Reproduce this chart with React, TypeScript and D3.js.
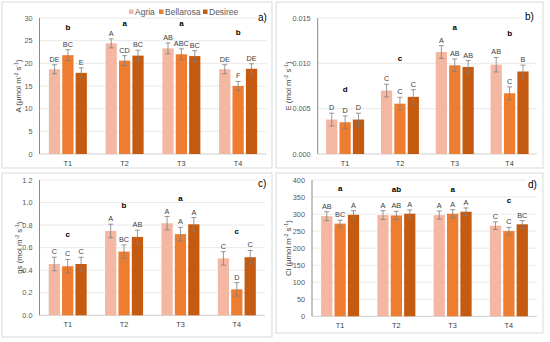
import React from "react";
import * as d3 from "d3";

const categories = ["T1", "T2", "T3", "T4"];
const seriesNames = ["Agria", "Bellarosa", "Desiree"];
const seriesColors = ["#F4B7A1", "#ED7D31", "#C55A11"];

// rows = categories, cols = series (Agria, Bellarosa, Desiree)
const aMeans = [[18.7, 21.8, 17.9], [24.4, 20.6, 21.7], [23.3, 22.0, 21.6], [18.7, 15.0, 18.8]];
const aErrors = [[1.0, 1.2, 1.1], [1.0, 1.1, 1.2], [1.2, 1.2, 1.2], [1.0, 1.0, 1.1]];
const aLetters = [["DE", "BC", "E"], ["A", "CD", "BC"], ["AB", "ABC", "BC"], ["DE", "F", "DE"]];
const aGroupLetters = ["b", "a", "a", "b"];
const aGroupY = [27.9, 28.9, 28.9, 26.9];

const eMeans = [[0.0038, 0.0035, 0.0038], [0.0070, 0.00555, 0.0063], [0.01125, 0.00978, 0.0096], [0.00985, 0.0067, 0.0091]];
const eErrors = [[0.0007, 0.0007, 0.0007], [0.0007, 0.0007, 0.0008], [0.0007, 0.0007, 0.0007], [0.0008, 0.0007, 0.0007]];
const eLetters = [["D", "D", "D"], ["C", "C", "C"], ["A", "AB", "AB"], ["AB", "C", "B"]];
const eGroupLetters = ["d", "c", "a", "b"];
const eGroupY = [0.00717, 0.0106, 0.0140, 0.01335];

const gsMeans = [[0.455, 0.435, 0.455], [0.748, 0.565, 0.695], [0.816, 0.72, 0.807], [0.505, 0.23, 0.515]];
const gsErrors = [[0.06, 0.06, 0.06], [0.06, 0.06, 0.06], [0.06, 0.06, 0.06], [0.06, 0.06, 0.06]];
const gsLetters = [["C", "C", "C"], ["A", "BC", "AB"], ["A", "A", "A"], ["C", "D", "C"]];
const gsGroupLetters = ["c", "b", "a", "c"];
const gsGroupY = [0.718, 0.975, 1.043, 0.748];

const ciMeans = [[294, 272, 298], [297, 296, 301], [297, 301, 307], [266, 250, 270]];
const ciErrors = [[13, 10, 12], [13, 12, 11], [12, 12, 11], [11, 11, 11]];
const ciLetters = [["AB", "BC", "A"], ["A", "AB", "A"], ["A", "A", "A"], ["C", "C", "BC"]];
const ciGroupLetters = ["a", "ab", "a", "c"];
const ciGroupY = [377, 374, 372, 341];

const FONT = "Liberation Sans, Arial, sans-serif";

type PanelProps = {
  border: { x: number; y: number; w: number; h: number };
  plot: { left: number; right: number; top: number; bottom: number };
  domain: [number, number];
  tickStep: number;
  fmt: string;
  means: number[][];
  errors: number[][];
  letters: string[][];
  groupLetters: string[];
  groupY: number[];
  titleMain: string;
  titleUnit: string;
  titleX: number;
  label: string;
  labelPos: { x: number; y: number };
};

function Panel(p: PanelProps) {
  const x = d3.scaleBand<string>().domain(categories).range([p.plot.left, p.plot.right]);
  const inner = d3.scaleBand<string>().domain(seriesNames).range([0, 38]).paddingInner(0.16).paddingOuter(0);
  const y = d3.scaleLinear().domain(p.domain).range([p.plot.bottom, p.plot.top]);
  const ticks = d3.range(p.domain[0], p.domain[1] + p.tickStep / 2, p.tickStep);
  const f = d3.format(p.fmt);
  const bw = inner.bandwidth();
  const titleY = (p.plot.top + p.plot.bottom) / 2;
  return (
    <g>
      <rect x={p.border.x} y={p.border.y} width={p.border.w} height={p.border.h} fill="white" stroke="#d9d9d9" strokeWidth={1} />
      {ticks.map((t, i) => (
        <g key={"t" + i}>
          {i > 0 && <line x1={p.plot.left} x2={p.plot.right} y1={y(t)} y2={y(t)} stroke="#e3e3e3" strokeWidth={0.8} />}
          <text x={p.plot.left - 7} y={y(t)} dy="0.35em" textAnchor="end" fontSize={7.3} fill="#595959" fontFamily={FONT}>
            {f(t)}
          </text>
        </g>
      ))}
      <line x1={p.plot.left} x2={p.plot.right} y1={p.plot.bottom} y2={p.plot.bottom} stroke="#d0d0d0" strokeWidth={1} />
      {categories.map((c, ci) => {
        const gx = (x(c) as number) + x.bandwidth() / 2 - 19;
        return (
          <g key={c}>
            {seriesNames.map((s, si) => {
              const bx = gx + (inner(s) as number);
              const v = p.means[ci][si];
              const e = p.errors[ci][si];
              const cx = bx + bw / 2;
              return (
                <g key={s}>
                  <rect x={bx} y={y(v)} width={bw} height={y(0) - y(v)} fill={seriesColors[si]} />
                  <line x1={cx} x2={cx} y1={y(v - e)} y2={y(v + e)} stroke="#7f7f7f" strokeWidth={0.8} />
                  <line x1={cx - 2.5} x2={cx + 2.5} y1={y(v + e)} y2={y(v + e)} stroke="#7f7f7f" strokeWidth={0.8} />
                  <line x1={cx - 2.5} x2={cx + 2.5} y1={y(v - e)} y2={y(v - e)} stroke="#7f7f7f" strokeWidth={0.8} />
                  <text x={cx} y={y(v + e) - 3} textAnchor="middle" fontSize={7.3} fill="#404040" fontFamily={FONT}>
                    {p.letters[ci][si]}
                  </text>
                </g>
              );
            })}
            <text x={gx + 19} y={y(p.groupY[ci])} dy="0.35em" textAnchor="middle" fontSize={8} fontWeight="bold" fill="#000" fontFamily={FONT}>
              {p.groupLetters[ci]}
            </text>
            <text x={gx + 19} y={p.plot.bottom + 12} textAnchor="middle" fontSize={7.3} fill="#404040" fontFamily={FONT}>
              {c}
            </text>
          </g>
        );
      })}
      <line x1={p.plot.left} x2={p.plot.left} y1={p.plot.top} y2={p.plot.bottom} stroke="#8c8c8c" strokeWidth={1} />
      <text transform={`translate(${p.titleX},${titleY}) rotate(-90)`} textAnchor="middle" fontSize={7.8} fill="#404040" fontFamily={FONT}>
        {p.titleMain} {p.titleUnit}m<tspan fontSize={5.2} dy={-3}>-2</tspan>
        <tspan dy={3}> s</tspan>
        <tspan fontSize={5.2} dy={-3}>-1</tspan>
        <tspan dy={3}>)</tspan>
      </text>
      <rect x={p.labelPos.x - 2} y={p.labelPos.y - 9} width={14} height={12} fill="white" />
      <text x={p.labelPos.x} y={p.labelPos.y} fontSize={10} fill="#000" fontFamily={FONT}>
        {p.label}
      </text>
    </g>
  );
}

export default function App() {
  const legendX = [129, 159, 203];
  return (
    <svg width={550} height={342} style={{ position: "absolute", left: 0, top: 0, background: "white" }}>
      <Panel
        border={{ x: 2, y: 2, w: 270, h: 166 }}
        plot={{ left: 39.5, right: 266.5, top: 18, bottom: 154 }}
        domain={[0, 30]}
        tickStep={5}
        fmt="d"
        means={aMeans}
        errors={aErrors}
        letters={aLetters}
        groupLetters={aGroupLetters}
        groupY={aGroupY}
        titleMain="A"
        titleUnit="(μmol "
        titleX={21}
        label="a)"
        labelPos={{ x: 258, y: 21 }}
      />
      <Panel
        border={{ x: 276, y: 2, w: 267, h: 166 }}
        plot={{ left: 317.7, right: 537, top: 18, bottom: 154 }}
        domain={[0, 0.015]}
        tickStep={0.005}
        fmt=".3f"
        means={eMeans}
        errors={eErrors}
        letters={eLetters}
        groupLetters={eGroupLetters}
        groupY={eGroupY}
        titleMain="E"
        titleUnit="(mol "
        titleX={291}
        label="b)"
        labelPos={{ x: 525, y: 20 }}
      />
      <Panel
        border={{ x: 2, y: 173, w: 270, h: 164 }}
        plot={{ left: 39.5, right: 265, top: 180, bottom: 315.3 }}
        domain={[0, 1.2]}
        tickStep={0.2}
        fmt=".1f"
        means={gsMeans}
        errors={gsErrors}
        letters={gsLetters}
        groupLetters={gsGroupLetters}
        groupY={gsGroupY}
        titleMain="gs"
        titleUnit="(mol "
        titleX={22}
        label="c)"
        labelPos={{ x: 258, y: 187 }}
      />
      <Panel
        border={{ x: 276, y: 173, w: 267, h: 160 }}
        plot={{ left: 312, right: 537, top: 180, bottom: 316.3 }}
        domain={[0, 400]}
        tickStep={50}
        fmt="d"
        means={ciMeans}
        errors={ciErrors}
        letters={ciLetters}
        groupLetters={ciGroupLetters}
        groupY={ciGroupY}
        titleMain="Ci"
        titleUnit="(μmol "
        titleX={291}
        label="d)"
        labelPos={{ x: 528, y: 188 }}
      />
      {seriesNames.map((s, i) => (
        <g key={s}>
          <rect x={legendX[i]} y={9.5} width={4.5} height={4.5} fill={seriesColors[i]} />
          <text x={legendX[i] + 6} y={14.8} fontSize={8.5} fill="#595959" fontFamily={FONT}>
            {s}
          </text>
        </g>
      ))}
    </svg>
  );
}
